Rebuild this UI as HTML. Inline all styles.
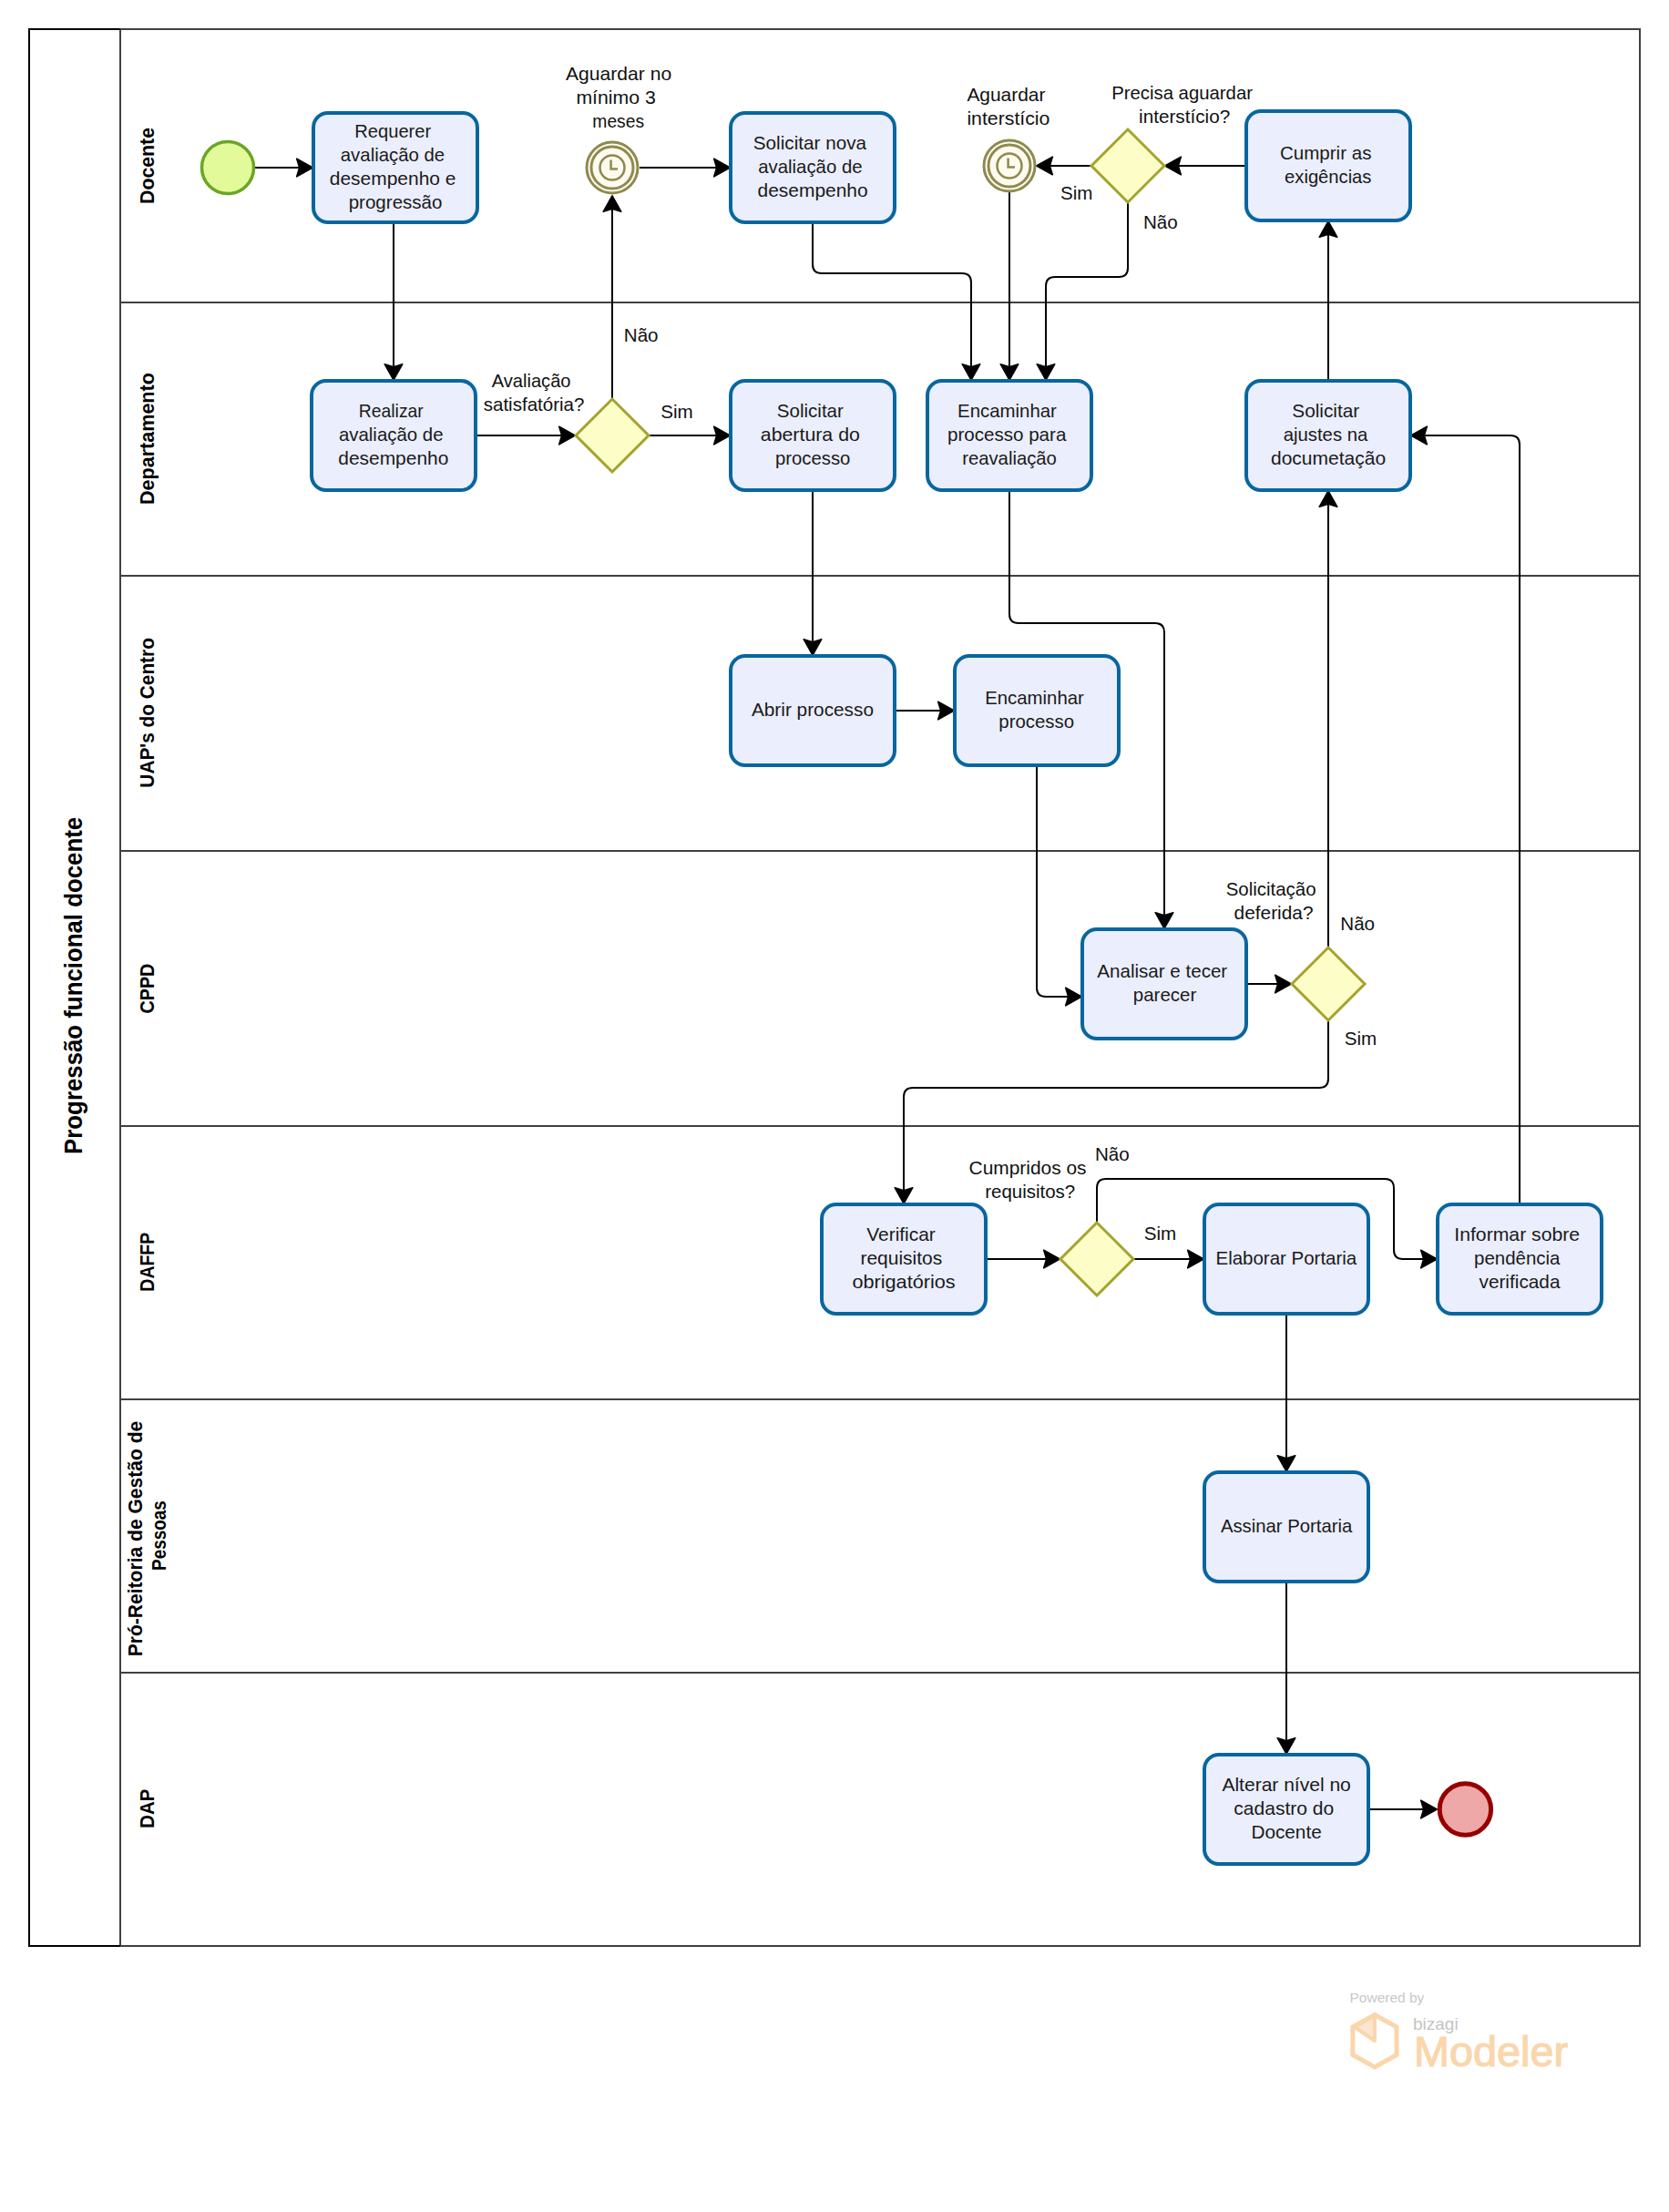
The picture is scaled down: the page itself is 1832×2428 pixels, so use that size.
<!DOCTYPE html>
<html><head><meta charset="utf-8"><style>
html,body{margin:0;padding:0;background:#fff;overflow:hidden;}
svg{display:block;}
text{font-family:"Liberation Sans", sans-serif;}
</style></head><body>
<svg width="1832" height="2428" viewBox="0 0 1832 2428">
<rect width="1832" height="2428" fill="#FFFFFF"/>
<rect x="132" y="32" width="1668" height="2104" fill="none" stroke="#404040" stroke-width="2"/>
<line x1="132" y1="332" x2="1800" y2="332" stroke="#404040" stroke-width="2"/>
<line x1="132" y1="632" x2="1800" y2="632" stroke="#404040" stroke-width="2"/>
<line x1="132" y1="934" x2="1800" y2="934" stroke="#404040" stroke-width="2"/>
<line x1="132" y1="1236" x2="1800" y2="1236" stroke="#404040" stroke-width="2"/>
<line x1="132" y1="1536" x2="1800" y2="1536" stroke="#404040" stroke-width="2"/>
<line x1="132" y1="1836" x2="1800" y2="1836" stroke="#404040" stroke-width="2"/>
<path d="M132 32 H32 V2136 H132" fill="none" stroke="#000" stroke-width="2"/>
<path d="M280 184 L340.0 184.0" fill="none" stroke="#000" stroke-width="2"/>
<path d="M343.2 184.0 L325.7 193.8 L328.7 184.0 L325.7 174.2 Z" fill="#000" stroke="#000" stroke-width="1.6" stroke-linejoin="round"/>
<path d="M432 244 L432.0 414.0" fill="none" stroke="#000" stroke-width="2"/>
<path d="M432.0 417.2 L422.2 399.7 L432.0 402.7 L441.8 399.7 Z" fill="#000" stroke="#000" stroke-width="1.6" stroke-linejoin="round"/>
<path d="M522 478 L628.0 478.0" fill="none" stroke="#000" stroke-width="2"/>
<path d="M631.2 478.0 L613.7 487.8 L616.7 478.0 L613.7 468.2 Z" fill="#000" stroke="#000" stroke-width="1.6" stroke-linejoin="round"/>
<path d="M672 438 L672.0 218.0" fill="none" stroke="#000" stroke-width="2"/>
<path d="M672.0 214.8 L681.8 232.3 L672.0 229.3 L662.2 232.3 Z" fill="#000" stroke="#000" stroke-width="1.6" stroke-linejoin="round"/>
<path d="M702 184 L798.0 184.0" fill="none" stroke="#000" stroke-width="2"/>
<path d="M801.2 184.0 L783.7 193.8 L786.7 184.0 L783.7 174.2 Z" fill="#000" stroke="#000" stroke-width="1.6" stroke-linejoin="round"/>
<path d="M712 478 L798.0 478.0" fill="none" stroke="#000" stroke-width="2"/>
<path d="M801.2 478.0 L783.7 487.8 L786.7 478.0 L783.7 468.2 Z" fill="#000" stroke="#000" stroke-width="1.6" stroke-linejoin="round"/>
<path d="M892 244 L892.0 290.0 Q892 300 902.0 300.0 L1056.0 300.0 Q1066 300 1066.0 310.0 L1066.0 414.0" fill="none" stroke="#000" stroke-width="2"/>
<path d="M1066.0 417.2 L1056.2 399.7 L1066.0 402.7 L1075.8 399.7 Z" fill="#000" stroke="#000" stroke-width="1.6" stroke-linejoin="round"/>
<path d="M1108 211 L1108.0 414.0" fill="none" stroke="#000" stroke-width="2"/>
<path d="M1108.0 417.2 L1098.2 399.7 L1108.0 402.7 L1117.8 399.7 Z" fill="#000" stroke="#000" stroke-width="1.6" stroke-linejoin="round"/>
<path d="M1238 222 L1238.0 294.0 Q1238 304 1228.0 304.0 L1158.0 304.0 Q1148 304 1148.0 314.0 L1148.0 414.0" fill="none" stroke="#000" stroke-width="2"/>
<path d="M1148.0 417.2 L1138.2 399.7 L1148.0 402.7 L1157.8 399.7 Z" fill="#000" stroke="#000" stroke-width="1.6" stroke-linejoin="round"/>
<path d="M1368 182 L1282.0 182.0" fill="none" stroke="#000" stroke-width="2"/>
<path d="M1278.8 182.0 L1296.3 172.2 L1293.3 182.0 L1296.3 191.8 Z" fill="#000" stroke="#000" stroke-width="1.6" stroke-linejoin="round"/>
<path d="M1198 182 L1141.0 182.0" fill="none" stroke="#000" stroke-width="2"/>
<path d="M1137.8 182.0 L1155.3 172.2 L1152.3 182.0 L1155.3 191.8 Z" fill="#000" stroke="#000" stroke-width="1.6" stroke-linejoin="round"/>
<path d="M1458 418 L1458.0 246.0" fill="none" stroke="#000" stroke-width="2"/>
<path d="M1458.0 242.8 L1467.8 260.3 L1458.0 257.3 L1448.2 260.3 Z" fill="#000" stroke="#000" stroke-width="1.6" stroke-linejoin="round"/>
<path d="M892 538 L892.0 716.0" fill="none" stroke="#000" stroke-width="2"/>
<path d="M892.0 719.2 L882.2 701.7 L892.0 704.7 L901.8 701.7 Z" fill="#000" stroke="#000" stroke-width="1.6" stroke-linejoin="round"/>
<path d="M982 780 L1044.0 780.0" fill="none" stroke="#000" stroke-width="2"/>
<path d="M1047.2 780.0 L1029.7 789.8 L1032.7 780.0 L1029.7 770.2 Z" fill="#000" stroke="#000" stroke-width="1.6" stroke-linejoin="round"/>
<path d="M1108 538 L1108.0 674.0 Q1108 684 1118.0 684.0 L1268.0 684.0 Q1278 684 1278.0 694.0 L1278.0 1016.0" fill="none" stroke="#000" stroke-width="2"/>
<path d="M1278.0 1019.2 L1268.2 1001.7 L1278.0 1004.7 L1287.8 1001.7 Z" fill="#000" stroke="#000" stroke-width="1.6" stroke-linejoin="round"/>
<path d="M1138 840 L1138.0 1084.0 Q1138 1094 1148.0 1094.0 L1184.0 1094.0" fill="none" stroke="#000" stroke-width="2"/>
<path d="M1187.2 1094.0 L1169.7 1103.8 L1172.7 1094.0 L1169.7 1084.2 Z" fill="#000" stroke="#000" stroke-width="1.6" stroke-linejoin="round"/>
<path d="M1368 1080 L1414.0 1080.0" fill="none" stroke="#000" stroke-width="2"/>
<path d="M1417.2 1080.0 L1399.7 1089.8 L1402.7 1080.0 L1399.7 1070.2 Z" fill="#000" stroke="#000" stroke-width="1.6" stroke-linejoin="round"/>
<path d="M1458 1039 L1458.0 542.0" fill="none" stroke="#000" stroke-width="2"/>
<path d="M1458.0 538.8 L1467.8 556.3 L1458.0 553.3 L1448.2 556.3 Z" fill="#000" stroke="#000" stroke-width="1.6" stroke-linejoin="round"/>
<path d="M1458 1121 L1458.0 1184.0 Q1458 1194 1448.0 1194.0 L1002.0 1194.0 Q992 1194 992.0 1204.0 L992.0 1318.0" fill="none" stroke="#000" stroke-width="2"/>
<path d="M992.0 1321.2 L982.2 1303.7 L992.0 1306.7 L1001.8 1303.7 Z" fill="#000" stroke="#000" stroke-width="1.6" stroke-linejoin="round"/>
<path d="M1082 1382 L1160.0 1382.0" fill="none" stroke="#000" stroke-width="2"/>
<path d="M1163.2 1382.0 L1145.7 1391.8 L1148.7 1382.0 L1145.7 1372.2 Z" fill="#000" stroke="#000" stroke-width="1.6" stroke-linejoin="round"/>
<path d="M1244 1382 L1318.0 1382.0" fill="none" stroke="#000" stroke-width="2"/>
<path d="M1321.2 1382.0 L1303.7 1391.8 L1306.7 1382.0 L1303.7 1372.2 Z" fill="#000" stroke="#000" stroke-width="1.6" stroke-linejoin="round"/>
<path d="M1204 1342 L1204.0 1304.0 Q1204 1294 1214.0 1294.0 L1520.0 1294.0 Q1530 1294 1530.0 1304.0 L1530.0 1372.0 Q1530 1382 1540.0 1382.0 L1574.0 1382.0" fill="none" stroke="#000" stroke-width="2"/>
<path d="M1577.2 1382.0 L1559.7 1391.8 L1562.7 1382.0 L1559.7 1372.2 Z" fill="#000" stroke="#000" stroke-width="1.6" stroke-linejoin="round"/>
<path d="M1668 1322 L1668.0 488.0 Q1668 478 1658.0 478.0 L1552.0 478.0" fill="none" stroke="#000" stroke-width="2"/>
<path d="M1548.8 478.0 L1566.3 468.2 L1563.3 478.0 L1566.3 487.8 Z" fill="#000" stroke="#000" stroke-width="1.6" stroke-linejoin="round"/>
<path d="M1412 1442 L1412.0 1612.0" fill="none" stroke="#000" stroke-width="2"/>
<path d="M1412.0 1615.2 L1402.2 1597.7 L1412.0 1600.7 L1421.8 1597.7 Z" fill="#000" stroke="#000" stroke-width="1.6" stroke-linejoin="round"/>
<path d="M1412 1736 L1412.0 1922.0" fill="none" stroke="#000" stroke-width="2"/>
<path d="M1412.0 1925.2 L1402.2 1907.7 L1412.0 1910.7 L1421.8 1907.7 Z" fill="#000" stroke="#000" stroke-width="1.6" stroke-linejoin="round"/>
<path d="M1502 1986 L1574.0 1986.0" fill="none" stroke="#000" stroke-width="2"/>
<path d="M1577.2 1986.0 L1559.7 1995.8 L1562.7 1986.0 L1559.7 1976.2 Z" fill="#000" stroke="#000" stroke-width="1.6" stroke-linejoin="round"/>
<rect x="344" y="124" width="180" height="120" rx="16" ry="16" fill="#EBEEFC" stroke="#08669F" stroke-width="4"/>
<text x="389.30" y="151.2" font-size="20.6" fill="#1a1a1a" textLength="83.88" lengthAdjust="spacingAndGlyphs">Requerer</text>
<text x="373.80" y="177.2" font-size="20.6" fill="#1a1a1a" textLength="114.37" lengthAdjust="spacingAndGlyphs">avaliação de</text>
<text x="361.80" y="203.2" font-size="20.6" fill="#1a1a1a" textLength="138.69" lengthAdjust="spacingAndGlyphs">desempenho e</text>
<text x="382.70" y="229.2" font-size="20.6" fill="#1a1a1a" textLength="102.76" lengthAdjust="spacingAndGlyphs">progressão</text>
<rect x="802" y="124" width="180" height="120" rx="16" ry="16" fill="#EBEEFC" stroke="#08669F" stroke-width="4"/>
<text x="826.80" y="164.2" font-size="20.6" fill="#1a1a1a" textLength="124.26" lengthAdjust="spacingAndGlyphs">Solicitar nova</text>
<text x="832.20" y="190.2" font-size="20.6" fill="#1a1a1a" textLength="114.37" lengthAdjust="spacingAndGlyphs">avaliação de</text>
<text x="831.60" y="216.2" font-size="20.6" fill="#1a1a1a" textLength="121.01" lengthAdjust="spacingAndGlyphs">desempenho</text>
<rect x="1368" y="122" width="180" height="120" rx="16" ry="16" fill="#EBEEFC" stroke="#08669F" stroke-width="4"/>
<text x="1405.00" y="175.2" font-size="20.6" fill="#1a1a1a" textLength="100.42" lengthAdjust="spacingAndGlyphs">Cumprir as</text>
<text x="1410.10" y="201.2" font-size="20.6" fill="#1a1a1a" textLength="95.33" lengthAdjust="spacingAndGlyphs">exigências</text>
<rect x="342" y="418" width="180" height="120" rx="16" ry="16" fill="#EBEEFC" stroke="#08669F" stroke-width="4"/>
<text x="393.80" y="458.2" font-size="20.6" fill="#1a1a1a" textLength="70.96" lengthAdjust="spacingAndGlyphs">Realizar</text>
<text x="371.90" y="484.2" font-size="20.6" fill="#1a1a1a" textLength="114.67" lengthAdjust="spacingAndGlyphs">avaliação de</text>
<text x="371.30" y="510.2" font-size="20.6" fill="#1a1a1a" textLength="121.01" lengthAdjust="spacingAndGlyphs">desempenho</text>
<rect x="802" y="418" width="180" height="120" rx="16" ry="16" fill="#EBEEFC" stroke="#08669F" stroke-width="4"/>
<text x="852.80" y="458.2" font-size="20.6" fill="#1a1a1a" textLength="73.07" lengthAdjust="spacingAndGlyphs">Solicitar</text>
<text x="834.80" y="484.2" font-size="20.6" fill="#1a1a1a" textLength="109.06" lengthAdjust="spacingAndGlyphs">abertura do</text>
<text x="851.00" y="510.2" font-size="20.6" fill="#1a1a1a" textLength="82.38" lengthAdjust="spacingAndGlyphs">processo</text>
<rect x="1018" y="418" width="180" height="120" rx="16" ry="16" fill="#EBEEFC" stroke="#08669F" stroke-width="4"/>
<text x="1051.10" y="458.2" font-size="20.6" fill="#1a1a1a" textLength="108.82" lengthAdjust="spacingAndGlyphs">Encaminhar</text>
<text x="1040.00" y="484.2" font-size="20.6" fill="#1a1a1a" textLength="130.34" lengthAdjust="spacingAndGlyphs">processo para</text>
<text x="1056.20" y="510.2" font-size="20.6" fill="#1a1a1a" textLength="103.65" lengthAdjust="spacingAndGlyphs">reavaliação</text>
<rect x="1368" y="418" width="180" height="120" rx="16" ry="16" fill="#EBEEFC" stroke="#08669F" stroke-width="4"/>
<text x="1418.30" y="458.2" font-size="20.6" fill="#1a1a1a" textLength="73.97" lengthAdjust="spacingAndGlyphs">Solicitar</text>
<text x="1408.70" y="484.2" font-size="20.6" fill="#1a1a1a" textLength="92.60" lengthAdjust="spacingAndGlyphs">ajustes na</text>
<text x="1395.00" y="510.2" font-size="20.6" fill="#1a1a1a" textLength="126.08" lengthAdjust="spacingAndGlyphs">documetação</text>
<rect x="802" y="720" width="180" height="120" rx="16" ry="16" fill="#EBEEFC" stroke="#08669F" stroke-width="4"/>
<text x="824.90" y="786.2" font-size="20.6" fill="#1a1a1a" textLength="134.10" lengthAdjust="spacingAndGlyphs">Abrir processo</text>
<rect x="1048" y="720" width="180" height="120" rx="16" ry="16" fill="#EBEEFC" stroke="#08669F" stroke-width="4"/>
<text x="1081.20" y="773.2" font-size="20.6" fill="#1a1a1a" textLength="108.62" lengthAdjust="spacingAndGlyphs">Encaminhar</text>
<text x="1096.30" y="799.2" font-size="20.6" fill="#1a1a1a" textLength="82.68" lengthAdjust="spacingAndGlyphs">processo</text>
<rect x="1188" y="1020" width="180" height="120" rx="16" ry="16" fill="#EBEEFC" stroke="#08669F" stroke-width="4"/>
<text x="1204.30" y="1073.2" font-size="20.6" fill="#1a1a1a" textLength="142.92" lengthAdjust="spacingAndGlyphs">Analisar e tecer</text>
<text x="1243.80" y="1099.2" font-size="20.6" fill="#1a1a1a" textLength="69.54" lengthAdjust="spacingAndGlyphs">parecer</text>
<rect x="902" y="1322" width="180" height="120" rx="16" ry="16" fill="#EBEEFC" stroke="#08669F" stroke-width="4"/>
<text x="951.30" y="1362.2" font-size="20.6" fill="#1a1a1a" textLength="75.51" lengthAdjust="spacingAndGlyphs">Verificar</text>
<text x="944.40" y="1388.2" font-size="20.6" fill="#1a1a1a" textLength="89.86" lengthAdjust="spacingAndGlyphs">requisitos</text>
<text x="935.40" y="1414.2" font-size="20.6" fill="#1a1a1a" textLength="113.33" lengthAdjust="spacingAndGlyphs">obrigatórios</text>
<rect x="1322" y="1322" width="180" height="120" rx="16" ry="16" fill="#EBEEFC" stroke="#08669F" stroke-width="4"/>
<text x="1334.50" y="1388.2" font-size="20.6" fill="#1a1a1a" textLength="154.71" lengthAdjust="spacingAndGlyphs">Elaborar Portaria</text>
<rect x="1578" y="1322" width="180" height="120" rx="16" ry="16" fill="#EBEEFC" stroke="#08669F" stroke-width="4"/>
<text x="1596.30" y="1362.2" font-size="20.6" fill="#1a1a1a" textLength="137.85" lengthAdjust="spacingAndGlyphs">Informar sobre</text>
<text x="1618.10" y="1388.2" font-size="20.6" fill="#1a1a1a" textLength="94.37" lengthAdjust="spacingAndGlyphs">pendência</text>
<text x="1623.50" y="1414.2" font-size="20.6" fill="#1a1a1a" textLength="88.96" lengthAdjust="spacingAndGlyphs">verificada</text>
<rect x="1322" y="1616" width="180" height="120" rx="16" ry="16" fill="#EBEEFC" stroke="#08669F" stroke-width="4"/>
<text x="1339.90" y="1682.2" font-size="20.6" fill="#1a1a1a" textLength="144.34" lengthAdjust="spacingAndGlyphs">Assinar Portaria</text>
<rect x="1322" y="1926" width="180" height="120" rx="16" ry="16" fill="#EBEEFC" stroke="#08669F" stroke-width="4"/>
<text x="1341.40" y="1966.2" font-size="20.6" fill="#1a1a1a" textLength="141.44" lengthAdjust="spacingAndGlyphs">Alterar nível no</text>
<text x="1354.30" y="1992.2" font-size="20.6" fill="#1a1a1a" textLength="109.94" lengthAdjust="spacingAndGlyphs">cadastro do</text>
<text x="1373.40" y="2018.2" font-size="20.6" fill="#1a1a1a" textLength="77.33" lengthAdjust="spacingAndGlyphs">Docente</text>
<path d="M632 478 L672 438 L712 478 L672 518 Z" fill="#FDFDC8" stroke="#A3A32E" stroke-width="3" stroke-linejoin="miter"/>
<path d="M1198 182 L1238 142 L1278 182 L1238 222 Z" fill="#FDFDC8" stroke="#A3A32E" stroke-width="3" stroke-linejoin="miter"/>
<path d="M1418 1080 L1458 1040 L1498 1080 L1458 1120 Z" fill="#FDFDC8" stroke="#A3A32E" stroke-width="3" stroke-linejoin="miter"/>
<path d="M1164 1382 L1204 1342 L1244 1382 L1204 1422 Z" fill="#FDFDC8" stroke="#A3A32E" stroke-width="3" stroke-linejoin="miter"/>
<circle cx="672" cy="184" r="28" fill="#FDFBEF" stroke="#8E8A4E" stroke-width="3"/>
<circle cx="672" cy="184" r="23" fill="none" stroke="#8E8A4E" stroke-width="3"/>
<circle cx="672" cy="184" r="13.5" fill="none" stroke="#8E8A4E" stroke-width="2.5"/>
<path d="M670.6 175.4 V185.6 H678" fill="none" stroke="#8E8A4E" stroke-width="2.5"/>
<circle cx="1108" cy="182" r="28" fill="#FDFBEF" stroke="#8E8A4E" stroke-width="3"/>
<circle cx="1108" cy="182" r="23" fill="none" stroke="#8E8A4E" stroke-width="3"/>
<circle cx="1108" cy="182" r="13.5" fill="none" stroke="#8E8A4E" stroke-width="2.5"/>
<path d="M1106.6 173.4 V183.6 H1114" fill="none" stroke="#8E8A4E" stroke-width="2.5"/>
<circle cx="250" cy="184" r="28.5" fill="#E3FA9B" stroke="#6AA624" stroke-width="3.5"/>
<circle cx="1608.4" cy="1986" r="28.2" fill="#EFA8A8" stroke="#960000" stroke-width="5"/>
<text x="621.00" y="87.6" font-size="20.6" fill="#111" textLength="116.18" lengthAdjust="spacingAndGlyphs">Aguardar no</text>
<text x="632.40" y="113.6" font-size="20.6" fill="#111" textLength="87.41" lengthAdjust="spacingAndGlyphs">mínimo 3</text>
<text x="650.30" y="139.6" font-size="20.6" fill="#111" textLength="56.87" lengthAdjust="spacingAndGlyphs">meses</text>
<text x="1061.40" y="111.0" font-size="20.6" fill="#111" textLength="86.04" lengthAdjust="spacingAndGlyphs">Aguardar</text>
<text x="1061.40" y="137.0" font-size="20.6" fill="#111" textLength="91.05" lengthAdjust="spacingAndGlyphs">interstício</text>
<text x="1220.20" y="109.4" font-size="20.6" fill="#111" textLength="154.77" lengthAdjust="spacingAndGlyphs">Precisa aguardar</text>
<text x="1250.10" y="135.4" font-size="20.6" fill="#111" textLength="100.11" lengthAdjust="spacingAndGlyphs">interstício?</text>
<text x="539.70" y="425.3" font-size="20.6" fill="#111" textLength="86.85" lengthAdjust="spacingAndGlyphs">Avaliação</text>
<text x="530.70" y="451.3" font-size="20.6" fill="#111" textLength="110.76" lengthAdjust="spacingAndGlyphs">satisfatória?</text>
<text x="1345.70" y="983.4" font-size="20.6" fill="#111" textLength="98.82" lengthAdjust="spacingAndGlyphs">Solicitação</text>
<text x="1354.60" y="1009.4" font-size="20.6" fill="#111" textLength="86.90" lengthAdjust="spacingAndGlyphs">deferida?</text>
<text x="1063.60" y="1289.3" font-size="20.6" fill="#111" textLength="128.88" lengthAdjust="spacingAndGlyphs">Cumpridos os</text>
<text x="1081.30" y="1315.3" font-size="20.6" fill="#111" textLength="98.92" lengthAdjust="spacingAndGlyphs">requisitos?</text>
<text x="703.7" y="375" text-anchor="middle" font-size="20.6" fill="#111">Não</text>
<text x="743.0" y="458.9" text-anchor="middle" font-size="20.6" fill="#111">Sim</text>
<text x="1181.8" y="219.4" text-anchor="middle" font-size="20.6" fill="#111">Sim</text>
<text x="1273.8" y="250.8" text-anchor="middle" font-size="20.6" fill="#111">Não</text>
<text x="1490.2" y="1020.9" text-anchor="middle" font-size="20.6" fill="#111">Não</text>
<text x="1493.5" y="1147.3" text-anchor="middle" font-size="20.6" fill="#111">Sim</text>
<text x="1220.8" y="1273.5" text-anchor="middle" font-size="20.6" fill="#111">Não</text>
<text x="1273.5" y="1360.6" text-anchor="middle" font-size="20.6" fill="#111">Sim</text>
<text x="0" y="0" transform="translate(168.6 182) rotate(-90) scale(1 1.07)" text-anchor="middle" font-size="21" font-weight="bold" fill="#000" textLength="84" lengthAdjust="spacingAndGlyphs">Docente</text>
<text x="0" y="0" transform="translate(168.6 481.6) rotate(-90) scale(1 1.07)" text-anchor="middle" font-size="21" font-weight="bold" fill="#000" textLength="145" lengthAdjust="spacingAndGlyphs">Departamento</text>
<text x="0" y="0" transform="translate(168.6 782.4) rotate(-90) scale(1 1.07)" text-anchor="middle" font-size="21" font-weight="bold" fill="#000" textLength="164.5" lengthAdjust="spacingAndGlyphs">UAP's do Centro</text>
<text x="0" y="0" transform="translate(168.6 1085.1) rotate(-90) scale(1 1.07)" text-anchor="middle" font-size="21" font-weight="bold" fill="#000" textLength="54.7" lengthAdjust="spacingAndGlyphs">CPPD</text>
<text x="0" y="0" transform="translate(168.6 1385.2) rotate(-90) scale(1 1.07)" text-anchor="middle" font-size="21" font-weight="bold" fill="#000" textLength="65" lengthAdjust="spacingAndGlyphs">DAFFP</text>
<text x="0" y="0" transform="translate(155.8 1689) rotate(-90) scale(1 1.07)" text-anchor="middle" font-size="21" font-weight="bold" fill="#000" textLength="258.5" lengthAdjust="spacingAndGlyphs">Pró-Reitoria de Gestão de</text>
<text x="0" y="0" transform="translate(181.6 1685.5) rotate(-90) scale(1 1.07)" text-anchor="middle" font-size="21" font-weight="bold" fill="#000" textLength="76.8" lengthAdjust="spacingAndGlyphs">Pessoas</text>
<text x="0" y="0" transform="translate(168.6 1985.3) rotate(-90) scale(1 1.07)" text-anchor="middle" font-size="21" font-weight="bold" fill="#000" textLength="43" lengthAdjust="spacingAndGlyphs">DAP</text>
<text x="0" y="0" transform="translate(89.6 1081.9) rotate(-90) scale(1 1.04)" text-anchor="middle" font-size="25.7" font-weight="bold" fill="#000" textLength="370" lengthAdjust="spacingAndGlyphs">Progressão funcional docente</text>
<text x="1481.5" y="2197.7" font-size="15.5" fill="#C8C8C8">Powered by</text>
<path d="M1508.9 2211.5 L1533 2225 V2255.5 L1508.9 2269 L1484.8 2255.5 V2225 Z" fill="none" stroke="#F9D6AC" stroke-width="5"/>
<path d="M1487 2225 L1508.9 2212 V2240 Z" fill="#FCE6CF" stroke="#F9D6AC" stroke-width="4" stroke-linejoin="round"/>
<text x="1551" y="2228" font-size="19" fill="#C4C4C4">bizagi</text>
<text x="1552" y="2268" font-size="46" textLength="169" lengthAdjust="spacingAndGlyphs" fill="#F9D6AC" stroke="#F9D6AC" stroke-width="1.2">Modeler</text>
</svg></body></html>
